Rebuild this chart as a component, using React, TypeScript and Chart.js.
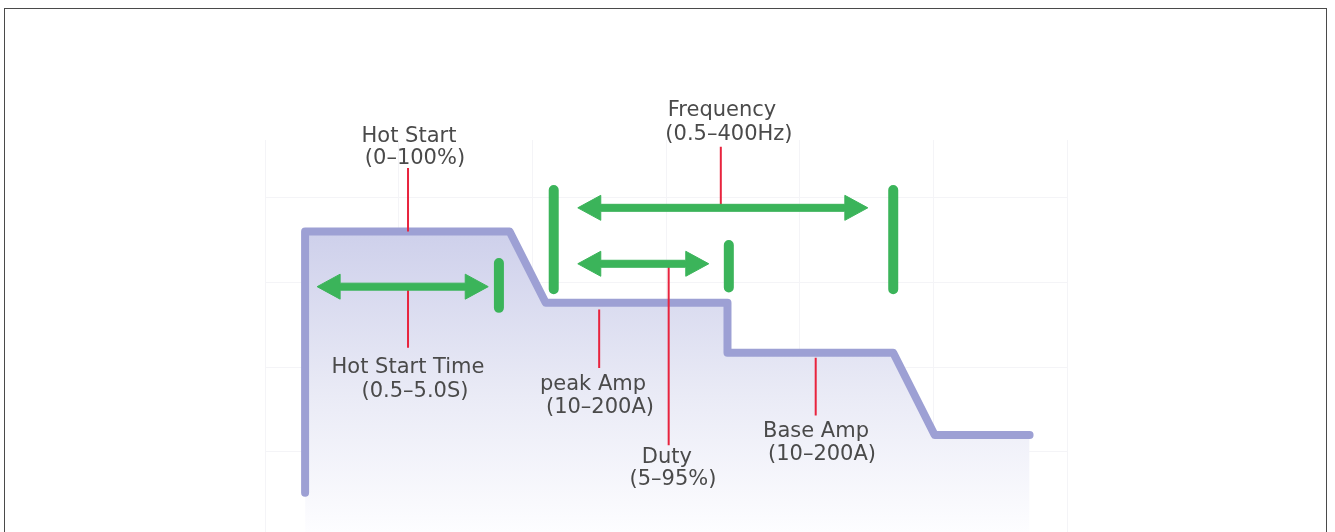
import React, { useEffect, useRef } from "react";
import { Chart, registerables } from "chart.js";

Chart.register(...registerables);

// ---- data (in chart units: x = time divisions, y = level divisions) ----
// welding current waveform
const waveX = [0.3, 0.3, 1.83, 2.1, 3.46, 3.46, 4.7, 5.01, 5.72];
const waveY = [-0.48, 2.6, 2.6, 1.76, 1.76, 1.17, 1.17, 0.2, 0.2];

// green double arrows (level, start, end)
const arrowY = [1.95, 2.88, 2.22];
const arrowX1 = [0.39, 2.34, 2.34];
const arrowX2 = [1.67, 4.51, 3.32];

// green limit bars (position, top, bottom)
const barX = [1.75, 2.16, 4.7, 3.47];
const barY1 = [2.23, 3.09, 3.09, 2.44];
const barY2 = [1.7, 1.92, 1.92, 1.94];

// red leader lines (position, from, to)
const leaderX = [1.07, 1.07, 3.41, 2.5, 3.02, 4.12];
const leaderY1 = [3.35, 1.95, 3.6, 1.68, 2.22, 1.11];
const leaderY2 = [2.6, 1.23, 2.88, 0.99, 0.08, 0.43];

// annotation labels (centre x, baseline y)
const labelText = [
  "Hot Start",
  "(0–100%)",
  "Frequency",
  "(0.5–400Hz)",
  "Hot Start Time",
  "(0.5–5.0S)",
  "peak Amp",
  "(10–200A)",
  "Duty",
  "(5–95%)",
  "Base Amp",
  "(10–200A)",
];
const labelX = [1.077, 1.122, 3.419, 3.471, 1.07, 1.122, 2.454, 2.506, 3.007, 3.052, 4.122, 4.167];
const labelY = [3.658, 3.398, 3.965, 3.681, 0.932, 0.649, 0.732, 0.46, -0.13, -0.389, 0.177, -0.094];

// grid ticks
const xTicks = [0, 1, 2, 3, 4, 5, 6];
const yTicks = [0, 1, 2, 3];

const PURPLE = "#9da0d4";
const GREEN = "#3bb45a";
const RED = "#e8243e";
const TEXT = "#4a4a4a";

function segments(xs: number[], y1: number[], y2: number[]) {
  const out: { x: number; y: number | null }[] = [];
  xs.forEach((x, i) => {
    out.push({ x, y: y1[i] });
    out.push({ x, y: y2[i] });
    out.push({ x, y: null });
  });
  return out;
}

const overlayPlugin = {
  id: "overlay",
  afterDatasetsDraw(chart: any) {
    const { ctx } = chart;
    const xs = chart.scales.x;
    const ys = chart.scales.y;
    ctx.save();
    // double arrows
    ctx.fillStyle = GREEN;
    ctx.lineJoin = "round";
    ctx.strokeStyle = GREEN;
    ctx.lineWidth = 1;
    const hl = 23;
    const hh = 12.5;
    const st = 3.5;
    arrowY.forEach((ay, i) => {
      const py = ys.getPixelForValue(ay);
      const p1 = xs.getPixelForValue(arrowX1[i]);
      const p2 = xs.getPixelForValue(arrowX2[i]);
      ctx.beginPath();
      ctx.moveTo(p1, py);
      ctx.lineTo(p1 + hl, py - hh);
      ctx.lineTo(p1 + hl, py - st);
      ctx.lineTo(p2 - hl, py - st);
      ctx.lineTo(p2 - hl, py - hh);
      ctx.lineTo(p2, py);
      ctx.lineTo(p2 - hl, py + hh);
      ctx.lineTo(p2 - hl, py + st);
      ctx.lineTo(p1 + hl, py + st);
      ctx.lineTo(p1 + hl, py + hh);
      ctx.closePath();
      ctx.fill();
      ctx.stroke();
    });
    // labels
    ctx.fillStyle = TEXT;
    ctx.font = '21px "DejaVu Sans", sans-serif';
    ctx.textAlign = "center";
    ctx.textBaseline = "alphabetic";
    labelText.forEach((t, i) => {
      ctx.fillText(t, xs.getPixelForValue(labelX[i]), ys.getPixelForValue(labelY[i]));
    });
    ctx.restore();
  },
};

export default function App() {
  const ref = useRef<HTMLCanvasElement | null>(null);

  useEffect(() => {
    if (!ref.current) return;
    const chart = new Chart(ref.current, {
      type: "line",
      data: {
        datasets: [
          {
            label: "leaders",
            data: segments(leaderX, leaderY1, leaderY2),
            borderColor: RED,
            borderWidth: 2,
            pointRadius: 0,
            spanGaps: false,
            fill: false,
            order: 1,
          },
          {
            label: "bars",
            data: segments(barX, barY1, barY2),
            borderColor: GREEN,
            borderWidth: 10,
            borderCapStyle: "round",
            pointRadius: 0,
            spanGaps: false,
            fill: false,
            order: 2,
          },
          {
            label: "wave",
            data: waveX.map((x, i) => ({ x, y: waveY[i] })),
            borderColor: PURPLE,
            borderWidth: 8,
            borderCapStyle: "round",
            borderJoinStyle: "round",
            pointRadius: 0,
            fill: "start",
            backgroundColor: (c: any) => {
              const ch = c.chart;
              const area = ch.chartArea;
              if (!area) return "rgba(210,212,236,0.6)";
              const top = ch.scales.y.getPixelForValue(Math.max(...waveY));
              const g = ch.ctx.createLinearGradient(0, top, 0, area.bottom);
              g.addColorStop(0, "rgba(206,208,235,1)");
              g.addColorStop(0.55, "rgba(234,235,246,1)");
              g.addColorStop(1, "rgba(253,253,255,1)");
              return g;
            },
            order: 3,
          },
        ],
      },
      options: {
        responsive: false,
        animation: false,
        events: [],
        layout: { padding: { left: 265, right: 268, top: 140, bottom: 0 } },
        plugins: { legend: { display: false }, tooltip: { enabled: false } },
        scales: {
          x: {
            type: "linear",
            min: 0,
            max: 6,
            afterBuildTicks: (s: any) => {
              s.ticks = xTicks.map((v) => ({ value: v }));
            },
            ticks: { display: false },
            grid: { color: "#f4f4f7", lineWidth: 1, drawTicks: false },
            border: { display: false },
          },
          y: {
            type: "linear",
            min: -0.944,
            max: 3.68,
            afterBuildTicks: (s: any) => {
              s.ticks = yTicks.map((v) => ({ value: v }));
            },
            ticks: { display: false },
            grid: { color: "#f4f4f7", lineWidth: 1, drawTicks: false },
            border: { display: false },
          },
        },
      },
      plugins: [overlayPlugin],
    } as any);
    return () => chart.destroy();
  }, []);

  return (
    <div
      style={{
        position: "fixed",
        left: 0,
        top: 0,
        width: 1335,
        height: 532,
        overflow: "hidden",
        background: "#fff",
      }}
    >
      <canvas
        ref={ref}
        width={1335}
        height={532}
        style={{ position: "absolute", left: 0, top: 0, width: 1335, height: 532 }}
      />
      <div
        style={{
          position: "absolute",
          left: 4,
          top: 8,
          width: 1323,
          height: 600,
          border: "1.5px solid #4a4a4a",
          boxSizing: "border-box",
          pointerEvents: "none",
        }}
      />
    </div>
  );
}
